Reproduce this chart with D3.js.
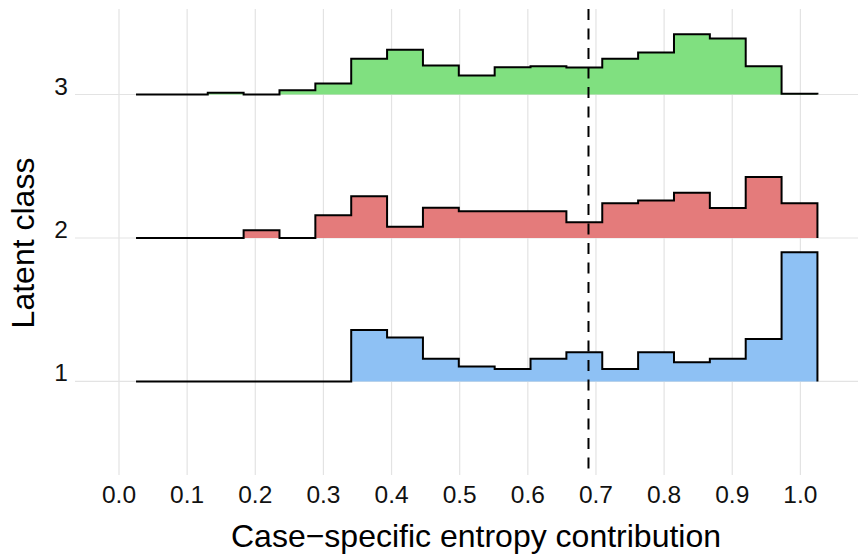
<!DOCTYPE html>
<html><head><meta charset="utf-8">
<script src="https://cdn.jsdelivr.net/npm/d3@7"></script>
<style>body{margin:0;background:#fff;} text{font-family:"Liberation Sans",Arial,sans-serif;}</style>
</head><body><svg id="c" width="860" height="557"></svg>
<script>
const classes = [1, 2, 3];
const binStart = 0.025, binEnd = 1.025, nBins = 19;
const density1 = [0,0,0,0,0,0,2.16,1.85,0.95,0.63,0.52,0.95,1.23,0.52,1.23,0.81,0.95,1.78,5.43];
const density2 = [0,0,0,0.32,0,0.95,1.75,0.47,1.27,1.12,1.12,1.12,0.66,1.46,1.58,1.90,1.26,2.56,1.46];
const density3 = [0,0,0.07,0,0.18,0.46,1.50,1.88,1.22,0.80,1.15,1.19,1.13,1.50,1.76,2.53,2.35,1.19,0.03];
const colors = ["#8EC1F4", "#E47B7B", "#80E080"];
const xTicks = [0,0.1,0.2,0.3,0.4,0.5,0.6,0.7,0.8,0.9,1.0];
const cutoff = 0.689;
const xTitle = "Case\u2212specific entropy contribution";
const yTitle = "Latent class";

const densities = [density1, density2, density3];
const svg = d3.select("#c");
const x = d3.scaleLinear().domain([0, 1]).range([119, 800.4]);
const panelL = 75, panelR = 858;
const y = d3.scaleLinear().domain([0.348, 3.596]).range([475, 9]);
const h = d3.scaleLinear().domain([0, 1]).range([0, 23.8]);
const bw = (binEnd - binStart) / nBins;

// gridlines
svg.append("g").selectAll("line").data(xTicks).join("line")
  .attr("x1", d => x(d)).attr("x2", d => x(d)).attr("y1", 9).attr("y2", 475)
  .attr("stroke", "#e3e3e3").attr("stroke-width", 1.2);
svg.append("g").selectAll("line").data(classes).join("line")
  .attr("x1", panelL).attr("x2", panelR).attr("y1", d => y(d)).attr("y2", d => y(d))
  .attr("stroke", "#e3e3e3").attr("stroke-width", 1.2);

// ridges, draw top class first so lower overlap on top
const order = [2, 1, 0];
order.forEach(i => {
  const base = y(classes[i]);
  const vals = densities[i];
  const pts = [[x(binStart), base]];
  vals.forEach((v, k) => {
    const x0 = x(binStart + k * bw), x1 = x(binStart + (k + 1) * bw);
    pts.push([x0, base - h(v)]);
    pts.push([x1, base - h(v)]);
  });
  pts.push([x(binEnd), base]);
  const line = d3.line();
  svg.append("path").attr("d", line(pts) + "Z").attr("fill", colors[i]).attr("stroke", "none");
  svg.append("path").attr("d", line(pts)).attr("fill", "none").attr("stroke", "#000")
    .attr("stroke-width", 2).attr("stroke-linejoin", "miter");
});

// cutoff
svg.append("line").attr("x1", x(cutoff)).attr("x2", x(cutoff)).attr("y1", 9).attr("y2", 475)
  .attr("stroke", "#000").attr("stroke-width", 2).attr("stroke-dasharray", "11,8.5");

// x tick labels
svg.append("g").selectAll("text").data(xTicks).join("text")
  .attr("x", d => x(d)).attr("y", 503).attr("text-anchor", "middle")
  .attr("font-size", 24.5).attr("fill", "#111").text(d => d.toFixed(1));
// y tick labels
svg.append("g").selectAll("text").data(classes).join("text")
  .attr("x", 68).attr("y", d => y(d)).attr("text-anchor", "end")
  .attr("font-size", 24.5).attr("fill", "#111").text(d => d);

svg.append("text").attr("x", 476).attr("y", 547).attr("text-anchor", "middle")
  .attr("font-size", 32).attr("fill", "#000").text(xTitle);
svg.append("text").attr("transform", "translate(34,243) rotate(-90)").attr("text-anchor", "middle")
  .attr("font-size", 32).attr("fill", "#000").text(yTitle);
</script></body></html>
